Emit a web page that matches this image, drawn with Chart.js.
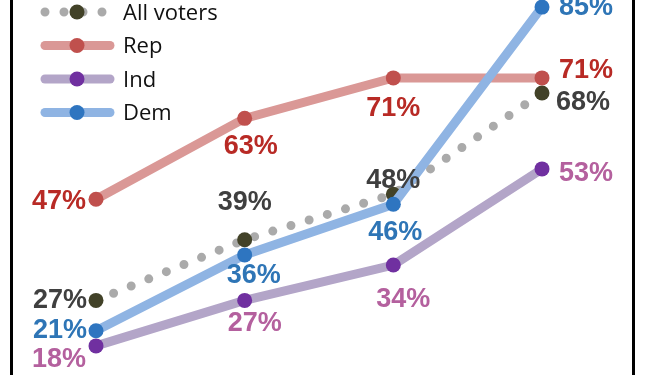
<!DOCTYPE html>
<html>
<head>
<meta charset="utf-8">
<script src="https://cdn.jsdelivr.net/npm/chart.js@4/dist/chart.umd.min.js"></script>
<style>
    body { margin: 0; background: #fff; }
    #wrap { position: relative; width: 646px; height: 375px; }
    #frame {
        position: absolute; left: 10px; top: 0; width: 619px; height: 375px;
        border-left: 3px solid #000; border-right: 3px solid #000;
    }
</style>
</head>
<body>
<div id="wrap">
    <div id="frame"></div>
    <canvas id="votersChart"></canvas>
</div>
<script>
const waves = ['Wave 1', 'Wave 2', 'Wave 3', 'Wave 4'];
const allVoters = [27, 39, 48, 68];
const rep = [47, 63, 71, 71];
const ind = [18, 27, 34, 53];
const dem = [21, 36, 46, 85];

// where each value label sits relative to its point: [dx, dy, align]
const allLabelPos = [[-9, 0, 'right'], [0, -37, 'center'], [0, -14, 'center'], [14, 9, 'left']];
const repLabelPos = [[-10, 2, 'right'], [6, 28, 'center'], [0, 31, 'center'], [17, -7, 'left']];
const indLabelPos = [[-10, 14, 'right'], [10, 23, 'center'], [10, 35, 'center'], [17, 5, 'left']];
const demLabelPos = [[-9, 0, 'right'], [9, 21, 'center'], [2, 28, 'center'], [17, 0, 'left']];

const valueLabels = {
    id: 'valueLabels',
    afterDatasetsDraw(chart) {
        const ctx = chart.ctx;
        ctx.save();
        ctx.font = 'bold 27px "Liberation Sans", Arial, sans-serif';
        ctx.textBaseline = 'middle';
        chart.data.datasets.forEach(function (ds, i) {
            const meta = chart.getDatasetMeta(i);
            meta.data.forEach(function (pt, j) {
                const pos = ds.labelPos[j];
                ctx.fillStyle = ds.labelColor;
                ctx.textAlign = pos[2];
                ctx.fillText(ds.data[j] + '%', pt.x + pos[0], pt.y + pos[1]);
            });
        });
        ctx.restore();
    }
};

// legend drawn by hand: line sample with marker in the middle
const sampleLegend = {
    id: 'sampleLegend',
    afterDraw(chart) {
        const ctx = chart.ctx;
        const order = [3, 1, 2, 0];
        ctx.save();
        order.forEach(function (idx, row) {
            const ds = chart.data.datasets[idx];
            const y = 12 + row * 33.5;
            ctx.lineCap = 'round';
            ctx.strokeStyle = ds.borderColor;
            ctx.lineWidth = ds.borderWidth;
            ctx.beginPath();
            if (ds.borderDash && ds.borderDash.length) {
                ctx.setLineDash(ds.borderDash);
                ctx.moveTo(45, y);
                ctx.lineTo(104, y);
            } else {
                ctx.setLineDash([]);
                ctx.moveTo(45, y);
                ctx.lineTo(110, y);
            }
            ctx.stroke();
            ctx.setLineDash([]);
            ctx.fillStyle = ds.pointBackgroundColor;
            ctx.beginPath();
            ctx.arc(77, y, 7.5, 0, Math.PI * 2);
            ctx.fill();
            ctx.fillStyle = '#111';
            ctx.font = '22px "Open Sans", sans-serif';
            ctx.textAlign = 'left';
            ctx.textBaseline = 'alphabetic';
            ctx.fillText(ds.label, 123, y + 7.5);
        });
        ctx.restore();
    }
};

new Chart('votersChart', {
    type: 'line',
    data: {
        labels: waves,
        datasets: [{
            label: 'Dem',
            data: dem,
            borderColor: '#8fb4e3',
            borderWidth: 9,
            pointBackgroundColor: '#2e75c0',
            labelColor: '#2e75b6',
            labelPos: demLabelPos,
            order: 0
        }, {
            label: 'Rep',
            data: rep,
            borderColor: '#da9896',
            borderWidth: 9,
            pointBackgroundColor: '#c0504d',
            labelColor: '#b82a25',
            labelPos: repLabelPos,
            order: 1
        }, {
            label: 'Ind',
            data: ind,
            borderColor: '#b3a5c8',
            borderWidth: 9,
            pointBackgroundColor: '#7030a0',
            labelColor: '#b4609e',
            labelPos: indLabelPos,
            order: 2
        }, {
            label: 'All voters',
            data: allVoters,
            borderColor: '#aaaaaa',
            borderWidth: 9,
            borderDash: [0, 19],
            borderCapStyle: 'round',
            pointBackgroundColor: '#424228',
            labelColor: '#3f3f3f',
            labelPos: allLabelPos,
            order: 3
        }].map(function (ds) {
            ds.pointBorderWidth = 0;
            ds.pointRadius = 7.5;
            ds.pointHoverRadius = 7.5;
            ds.pointBorderColor = ds.pointBackgroundColor;
            return ds;
        })
    },
    options: {
        responsive: true,
        maintainAspectRatio: false,
        animation: false,
        layout: { autoPadding: false, padding: { left: 96, right: 104, top: 0, bottom: 0 } },
        elements: {
            line: { tension: 0, fill: false }
        },
        datasets: { line: { clip: false } },
        scales: {
            x: { display: false, offset: false },
            y: { display: false, min: 12.25, max: 86.4 }
        },
        plugins: {
            legend: { display: false },
            tooltip: { enabled: false }
        }
    },
    plugins: [valueLabels, sampleLegend]
});
</script>
</body>
</html>
